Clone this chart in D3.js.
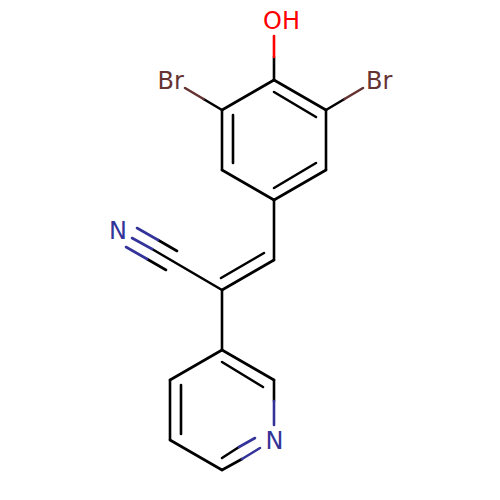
<!DOCTYPE html>
<html><head><meta charset="utf-8">
<script src="https://cdn.jsdelivr.net/npm/d3@7"></script>
<style>html,body{margin:0;padding:0;background:#fff}svg{display:block}</style>
</head><body><div id="c"></div>
<script>
// Atom labels
const labelText = ["OH","Br","Br","N","N"];
const labelX = [263,157.5,366,109,265.5];
const labelY = [29,89,89,239,449];
const labelColor = ["#ff0000","#663333","#663333","#333399","#333399"];
// Bond segments: x1,y1,x2,y2, per colour
const blackBonds = [
 [274,57,274,80],[274,80,222,110],[274,80,326,110],[222,110,222,170],[326,110,326,170],
 [222,170,274,200],[326,170,274,200],[222,110,203.5,99],[326,110,344.5,99],
 [274,92,316,117],[233,115,233,163],[316,163,274,188],
 [274,200,274,260],[274,260,222,290],[264,253,221,278],
 [222,290,152,249],[177,251,158,240],[166,270,147,259],
 [222,290,222,350],[222,350,274,380],[222,350,170,380],[274,380,274,401],
 [170,380,170,440],[170,440,222,470],[222,470,242,459],
 [222,362,263,387],[181,385,181,434],[222,458,239,447]
];
const redBonds = [[274,36,274,57]];
const brownBonds = [[203.5,99,185,88],[344.5,99,363,88]];
const blueBonds = [
 [152,249,132,238],[158,240,137,228],[147,259,126,247],
 [274,401,274,425],[242,459,260,448],[239,447,255,438]
];

const size = 500;
const x = d3.scaleLinear().domain([0,500]).range([0,size]);
const y = d3.scaleLinear().domain([0,500]).range([0,size]);
const svg = d3.select("#c").append("svg").attr("width",size).attr("height",size).attr("viewBox","0 0 500 500");

const groups = [[blackBonds,"#000000"],[redBonds,"#ff0000"],[brownBonds,"#663333"],[blueBonds,"#333399"]];
groups.forEach(([segs,col])=>{
  svg.append("g").selectAll("line").data(segs).join("line")
    .attr("x1",d=>x(d[0])).attr("y1",d=>y(d[1])).attr("x2",d=>x(d[2])).attr("y2",d=>y(d[3]))
    .attr("stroke",col).attr("stroke-width",2.6).attr("stroke-linecap","round");
});
svg.append("g").selectAll("text").data(labelText).join("text")
  .attr("x",(d,i)=>x(labelX[i])).attr("y",(d,i)=>y(labelY[i]))
  .attr("fill",(d,i)=>labelColor[i])
  .attr("font-family","'DejaVu Sans'").attr("font-size",24)
  .text(d=>d);
</script></body></html>
